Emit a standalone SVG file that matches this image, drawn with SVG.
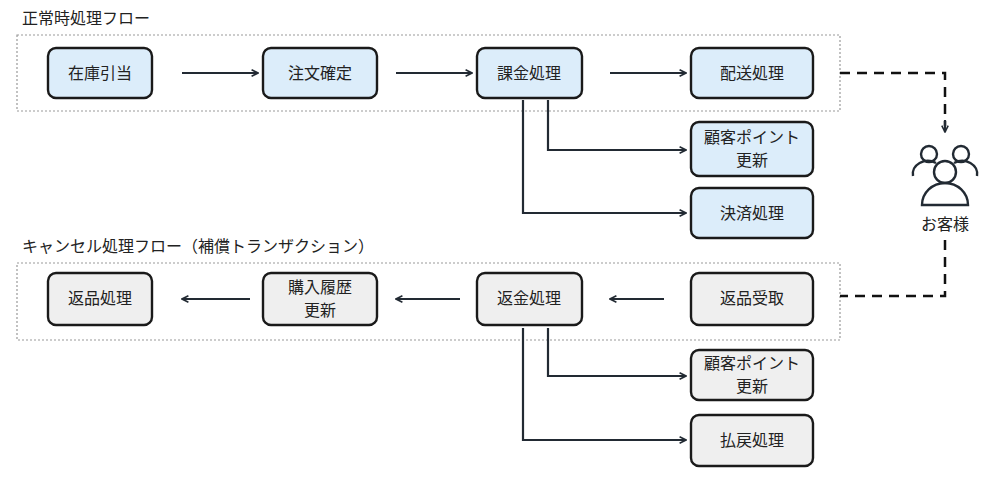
<svg xmlns="http://www.w3.org/2000/svg" width="1000" height="482" viewBox="0 0 1000 482">
<defs>
<style>
text{font-family:"Noto Sans CJK JP","Noto Sans",sans-serif;fill:#222;font-size:16px;text-anchor:middle}
.grp{fill:none;stroke:#999;stroke-width:1.2;stroke-dasharray:2 2}
.b{fill:#dcedfa;stroke:#1a1a1a;stroke-width:2.4}
.g{fill:#efefef;stroke:#1a1a1a;stroke-width:2.4}
.c{fill:none;stroke:#222a33;stroke-width:2.2}
.d{fill:none;stroke:#111;stroke-width:2.5;stroke-dasharray:10 7}
.t{text-anchor:start;font-size:16px}
</style>
<marker id="a" viewBox="0 0 10 10" refX="9" refY="5" markerWidth="8" markerHeight="8" orient="auto" markerUnits="userSpaceOnUse"><path d="M1,1 L9,5 L1,9" fill="none" stroke="#222a33" stroke-width="2"/></marker>
</defs>
<rect width="1000" height="482" fill="#fff"/>
<text class="t" x="22" y="24">正常時処理フロー</text>
<rect class="grp" x="17" y="35" width="823" height="76"/>
<text class="t" x="22" y="252">キャンセル処理フロー（補償トランザクション）</text>
<rect class="grp" x="17" y="263" width="823" height="77"/>
<g id="connectors">
<path class="c" d="M182,73 H258" marker-end="url(#a)"/>
<path class="c" d="M396,73 H472" marker-end="url(#a)"/>
<path class="c" d="M610,73 H686" marker-end="url(#a)"/>
<path class="c" d="M548,100 V150 H686" marker-end="url(#a)"/>
<path class="c" d="M523,100 V213 H686" marker-end="url(#a)"/>
<path class="c" d="M664,299 H610" marker-end="url(#a)"/>
<path class="c" d="M460,299 H396" marker-end="url(#a)"/>
<path class="c" d="M250,299 H182" marker-end="url(#a)"/>
<path class="c" d="M548,328 V376 H686" marker-end="url(#a)"/>
<path class="c" d="M523,328 V440 H686" marker-end="url(#a)"/>
<path class="d" d="M840,73 H945 V126"/>
<path class="c" d="M945,120 V132" marker-end="url(#a)"/>
<path class="d" d="M945,240 V296 H840"/>
</g>
<g id="n1"><rect class="b" x="48" y="48" width="104" height="50" rx="8"/><text x="100" y="79">在庫引当</text></g>
<g id="n2"><rect class="b" x="263" y="48" width="114" height="50" rx="8"/><text x="320" y="79">注文確定</text></g>
<g id="n3"><rect class="b" x="477" y="48" width="105" height="50" rx="8"/><text x="529" y="79">課金処理</text></g>
<g id="n4"><rect class="b" x="691" y="48" width="122" height="50" rx="8"/><text x="752" y="79">配送処理</text></g>
<g id="n5"><rect class="b" x="691" y="122" width="122" height="54" rx="8"/><text x="752" y="143">顧客ポイント</text><text x="752" y="166">更新</text></g>
<g id="n6"><rect class="b" x="691" y="188" width="122" height="50" rx="8"/><text x="752" y="219">決済処理</text></g>
<g id="n7"><rect class="g" x="48" y="273" width="104" height="52" rx="8"/><text x="100" y="304">返品処理</text></g>
<g id="n8"><rect class="g" x="263" y="273" width="114" height="52" rx="8"/><text x="320" y="293">購入履歴</text><text x="320" y="316">更新</text></g>
<g id="n9"><rect class="g" x="477" y="273" width="105" height="52" rx="8"/><text x="529" y="304">返金処理</text></g>
<g id="n10"><rect class="g" x="691" y="273" width="122" height="52" rx="8"/><text x="752" y="304">返品受取</text></g>
<g id="n11"><rect class="g" x="691" y="350" width="122" height="50" rx="8"/><text x="752" y="369">顧客ポイント</text><text x="752" y="392">更新</text></g>
<g id="n12"><rect class="g" x="691" y="415" width="122" height="51" rx="8"/><text x="752" y="446">払戻処理</text></g>
<g id="customer" fill="none" stroke="#222a33" stroke-width="2.4">
<circle cx="929" cy="154" r="8"/><path d="M913,176 A15,13 0 0 1 936,163"/>
<circle cx="961" cy="154" r="8"/><path d="M977,176 A15,13 0 0 0 954,163"/>
<circle cx="945" cy="172" r="11"/><path d="M922,205 A23,22 0 0 1 968,205 Z"/>
<text x="945" y="230" stroke="none" fill="#222">お客様</text>
</g>
</svg>
